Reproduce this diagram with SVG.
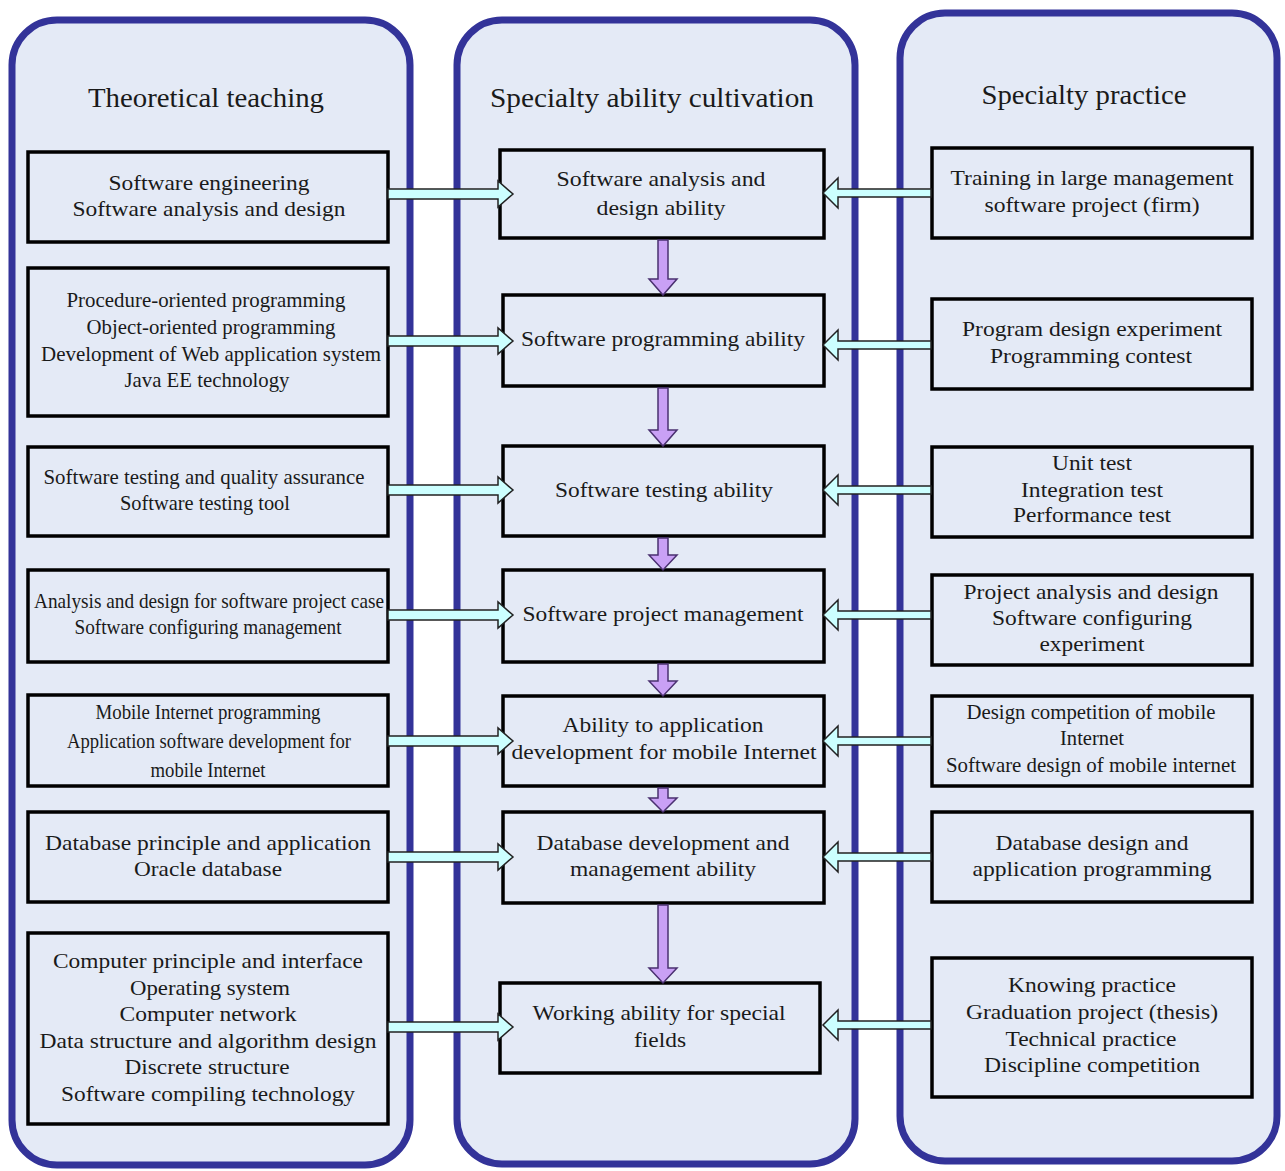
<svg xmlns="http://www.w3.org/2000/svg" width="1285" height="1171" viewBox="0 0 1285 1171">
<style>
.panel{fill:#e4eaf6;stroke:#333399;stroke-width:7}
.box{fill:#e4eaf6;stroke:#000;stroke-width:3.5}
.t{font-family:"Liberation Serif","Times New Roman",serif;font-size:22px;fill:#1a1a1a;text-anchor:middle}
.title{font-family:"Liberation Serif","Times New Roman",serif;font-size:28px;fill:#1a1a1a;text-anchor:middle}
.ca{fill:#ccffff;stroke:#222;stroke-width:1.5;stroke-linejoin:miter}
.pa{fill:#c9a0f5;stroke:#4a3070;stroke-width:1.5}
</style>
<rect width="1285" height="1171" fill="#fff"/>
<g id="panels">
<rect id="panel-theory" class="panel" x="12" y="20" width="398" height="1145" rx="45"/>
<rect id="panel-ability" class="panel" x="457" y="20" width="398" height="1144" rx="45"/>
<rect id="panel-practice" class="panel" x="900" y="13" width="377" height="1148" rx="45"/>
<text class="title" x="206" y="107" textLength="236" lengthAdjust="spacingAndGlyphs">Theoretical teaching</text>
<text class="title" x="652" y="107" textLength="324" lengthAdjust="spacingAndGlyphs">Specialty ability cultivation</text>
<text class="title" x="1084" y="104" textLength="205" lengthAdjust="spacingAndGlyphs">Specialty practice</text>
</g>
<g id="left-nodes">
<g id="L1"><rect class="box" x="28" y="152" width="360" height="90"/>
<text class="t" x="209" y="190" textLength="201" lengthAdjust="spacingAndGlyphs">Software engineering</text>
<text class="t" x="209" y="216" textLength="273" lengthAdjust="spacingAndGlyphs">Software analysis and design</text></g>
<g id="L2"><rect class="box" x="28" y="268" width="360" height="148"/>
<text class="t" x="206" y="307" textLength="279" lengthAdjust="spacingAndGlyphs">Procedure-oriented programming</text>
<text class="t" x="211" y="334" textLength="249" lengthAdjust="spacingAndGlyphs">Object-oriented programming</text>
<text class="t" x="211" y="361" textLength="340" lengthAdjust="spacingAndGlyphs">Development of Web application system</text>
<text class="t" x="207" y="387" textLength="165" lengthAdjust="spacingAndGlyphs">Java EE technology</text></g>
<g id="L3"><rect class="box" x="28" y="447" width="360" height="89"/>
<text class="t" x="204" y="484" textLength="321" lengthAdjust="spacingAndGlyphs">Software testing and quality assurance</text>
<text class="t" x="205" y="510" textLength="170" lengthAdjust="spacingAndGlyphs">Software testing tool</text></g>
<g id="L4"><rect class="box" x="28" y="570" width="360" height="92"/>
<text class="t" x="209" y="608" textLength="350" lengthAdjust="spacingAndGlyphs">Analysis and design for software project case</text>
<text class="t" x="208" y="634" textLength="267" lengthAdjust="spacingAndGlyphs">Software configuring management</text></g>
<g id="L5"><rect class="box" x="28" y="695" width="360" height="91"/>
<text class="t" x="208" y="719" style="font-size:20px" textLength="225" lengthAdjust="spacingAndGlyphs">Mobile Internet programming</text>
<text class="t" x="209" y="748" style="font-size:20px" textLength="284" lengthAdjust="spacingAndGlyphs">Application software development for</text>
<text class="t" x="208" y="777" style="font-size:20px" textLength="115" lengthAdjust="spacingAndGlyphs">mobile Internet</text></g>
<g id="L6"><rect class="box" x="28" y="812" width="360" height="90"/>
<text class="t" x="208" y="850" textLength="326" lengthAdjust="spacingAndGlyphs">Database principle and application</text>
<text class="t" x="208" y="876" textLength="148" lengthAdjust="spacingAndGlyphs">Oracle database</text></g>
<g id="L7"><rect class="box" x="28" y="933" width="360" height="191"/>
<text class="t" x="208" y="968" textLength="310" lengthAdjust="spacingAndGlyphs">Computer principle and interface</text>
<text class="t" x="210" y="995" textLength="160" lengthAdjust="spacingAndGlyphs">Operating system</text>
<text class="t" x="208" y="1021" textLength="177" lengthAdjust="spacingAndGlyphs">Computer network</text>
<text class="t" x="208" y="1048" textLength="337" lengthAdjust="spacingAndGlyphs">Data structure and algorithm design</text>
<text class="t" x="207" y="1074" textLength="165" lengthAdjust="spacingAndGlyphs">Discrete structure</text>
<text class="t" x="208" y="1101" textLength="294" lengthAdjust="spacingAndGlyphs">Software compiling technology</text></g>
</g>
<g id="middle-nodes">
<g id="M1"><rect class="box" x="500" y="150" width="324" height="88"/>
<text class="t" x="661" y="186" textLength="209" lengthAdjust="spacingAndGlyphs">Software analysis and</text>
<text class="t" x="661" y="215" textLength="129" lengthAdjust="spacingAndGlyphs">design ability</text></g>
<g id="M2"><rect class="box" x="503" y="295" width="321" height="91"/>
<text class="t" x="663" y="346" textLength="284" lengthAdjust="spacingAndGlyphs">Software programming ability</text></g>
<g id="M3"><rect class="box" x="503" y="446" width="321" height="90"/>
<text class="t" x="664" y="497" textLength="218" lengthAdjust="spacingAndGlyphs">Software testing ability</text></g>
<g id="M4"><rect class="box" x="503" y="570" width="321" height="92"/>
<text class="t" x="663" y="621" textLength="281" lengthAdjust="spacingAndGlyphs">Software project management</text></g>
<g id="M5"><rect class="box" x="503" y="696" width="321" height="90"/>
<text class="t" x="663" y="732" textLength="201" lengthAdjust="spacingAndGlyphs">Ability to application</text>
<text class="t" x="664" y="759" textLength="305" lengthAdjust="spacingAndGlyphs">development for mobile Internet</text></g>
<g id="M6"><rect class="box" x="503" y="812" width="321" height="91"/>
<text class="t" x="663" y="850" textLength="253" lengthAdjust="spacingAndGlyphs">Database development and</text>
<text class="t" x="663" y="876" textLength="186" lengthAdjust="spacingAndGlyphs">management ability</text></g>
<g id="M7"><rect class="box" x="500" y="983" width="320" height="90"/>
<text class="t" x="659" y="1020" textLength="253" lengthAdjust="spacingAndGlyphs">Working ability for special</text>
<text class="t" x="660" y="1047" textLength="52" lengthAdjust="spacingAndGlyphs">fields</text></g>
</g>
<g id="right-nodes">
<g id="R1"><rect class="box" x="932" y="148" width="320" height="90"/>
<text class="t" x="1092" y="185" textLength="283" lengthAdjust="spacingAndGlyphs">Training in large management</text>
<text class="t" x="1092" y="212" textLength="215" lengthAdjust="spacingAndGlyphs">software project (firm)</text></g>
<g id="R2"><rect class="box" x="932" y="299" width="320" height="90"/>
<text class="t" x="1092" y="336" textLength="260" lengthAdjust="spacingAndGlyphs">Program design experiment</text>
<text class="t" x="1091" y="363" textLength="202" lengthAdjust="spacingAndGlyphs">Programming contest</text></g>
<g id="R3"><rect class="box" x="932" y="447" width="320" height="90"/>
<text class="t" x="1092" y="470" textLength="80" lengthAdjust="spacingAndGlyphs">Unit test</text>
<text class="t" x="1092" y="497" textLength="142" lengthAdjust="spacingAndGlyphs">Integration test</text>
<text class="t" x="1092" y="522" textLength="158" lengthAdjust="spacingAndGlyphs">Performance test</text></g>
<g id="R4"><rect class="box" x="932" y="575" width="320" height="90"/>
<text class="t" x="1091" y="599" textLength="255" lengthAdjust="spacingAndGlyphs">Project analysis and design</text>
<text class="t" x="1092" y="625" textLength="200" lengthAdjust="spacingAndGlyphs">Software configuring</text>
<text class="t" x="1092" y="651" textLength="105" lengthAdjust="spacingAndGlyphs">experiment</text></g>
<g id="R5"><rect class="box" x="932" y="696" width="320" height="90"/>
<text class="t" x="1091" y="719" textLength="249" lengthAdjust="spacingAndGlyphs">Design competition of mobile</text>
<text class="t" x="1092" y="745" textLength="64" lengthAdjust="spacingAndGlyphs">Internet</text>
<text class="t" x="1091" y="772" textLength="290" lengthAdjust="spacingAndGlyphs">Software design of mobile internet</text></g>
<g id="R6"><rect class="box" x="932" y="812" width="320" height="90"/>
<text class="t" x="1092" y="850" textLength="193" lengthAdjust="spacingAndGlyphs">Database design and</text>
<text class="t" x="1092" y="876" textLength="239" lengthAdjust="spacingAndGlyphs">application programming</text></g>
<g id="R7"><rect class="box" x="932" y="958" width="320" height="139"/>
<text class="t" x="1092" y="992" textLength="168" lengthAdjust="spacingAndGlyphs">Knowing practice</text>
<text class="t" x="1092" y="1019" textLength="252" lengthAdjust="spacingAndGlyphs">Graduation project (thesis)</text>
<text class="t" x="1091" y="1046" textLength="171" lengthAdjust="spacingAndGlyphs">Technical practice</text>
<text class="t" x="1092" y="1072" textLength="216" lengthAdjust="spacingAndGlyphs">Discipline competition</text></g>
</g>
<g id="connectors">
<polygon class="ca" points="388,189 498,189 498,181 513,194 498,207 498,199 388,199"/>
<polygon class="ca" points="388,336 498,336 498,328 513,341 498,354 498,346 388,346"/>
<polygon class="ca" points="388,485 498,485 498,477 513,490 498,503 498,495 388,495"/>
<polygon class="ca" points="388,610 498,610 498,602 513,615 498,628 498,620 388,620"/>
<polygon class="ca" points="388,736 498,736 498,728 513,741 498,754 498,746 388,746"/>
<polygon class="ca" points="388,852 498,852 498,844 513,857 498,870 498,862 388,862"/>
<polygon class="ca" points="388,1022 498,1022 498,1014 513,1027 498,1040 498,1032 388,1032"/>
<polygon class="ca" points="931,189 838,189 838,178 823,193 838,208 838,197 931,197"/>
<polygon class="ca" points="931,341 838,341 838,330 823,345 838,360 838,349 931,349"/>
<polygon class="ca" points="931,486 838,486 838,475 823,490 838,505 838,494 931,494"/>
<polygon class="ca" points="931,611 838,611 838,600 823,615 838,630 838,619 931,619"/>
<polygon class="ca" points="931,737 838,737 838,726 823,741 838,756 838,745 931,745"/>
<polygon class="ca" points="931,853 838,853 838,842 823,857 838,872 838,861 931,861"/>
<polygon class="ca" points="931,1021 838,1021 838,1010 823,1025 838,1040 838,1029 931,1029"/>
<polygon class="pa" points="658,240 668,240 668,279 677,279 663,295 649,279 658,279"/>
<polygon class="pa" points="658,388 668,388 668,430 677,430 663,446 649,430 658,430"/>
<polygon class="pa" points="658,538 668,538 668,555 677,555 663,570 649,555 658,555"/>
<polygon class="pa" points="658,664 668,664 668,681 677,681 663,696 649,681 658,681"/>
<polygon class="pa" points="658,788 668,788 668,798 677,798 663,812 649,798 658,798"/>
<polygon class="pa" points="658,905 668,905 668,968 677,968 663,983 649,968 658,968"/>
</g>
</svg>
